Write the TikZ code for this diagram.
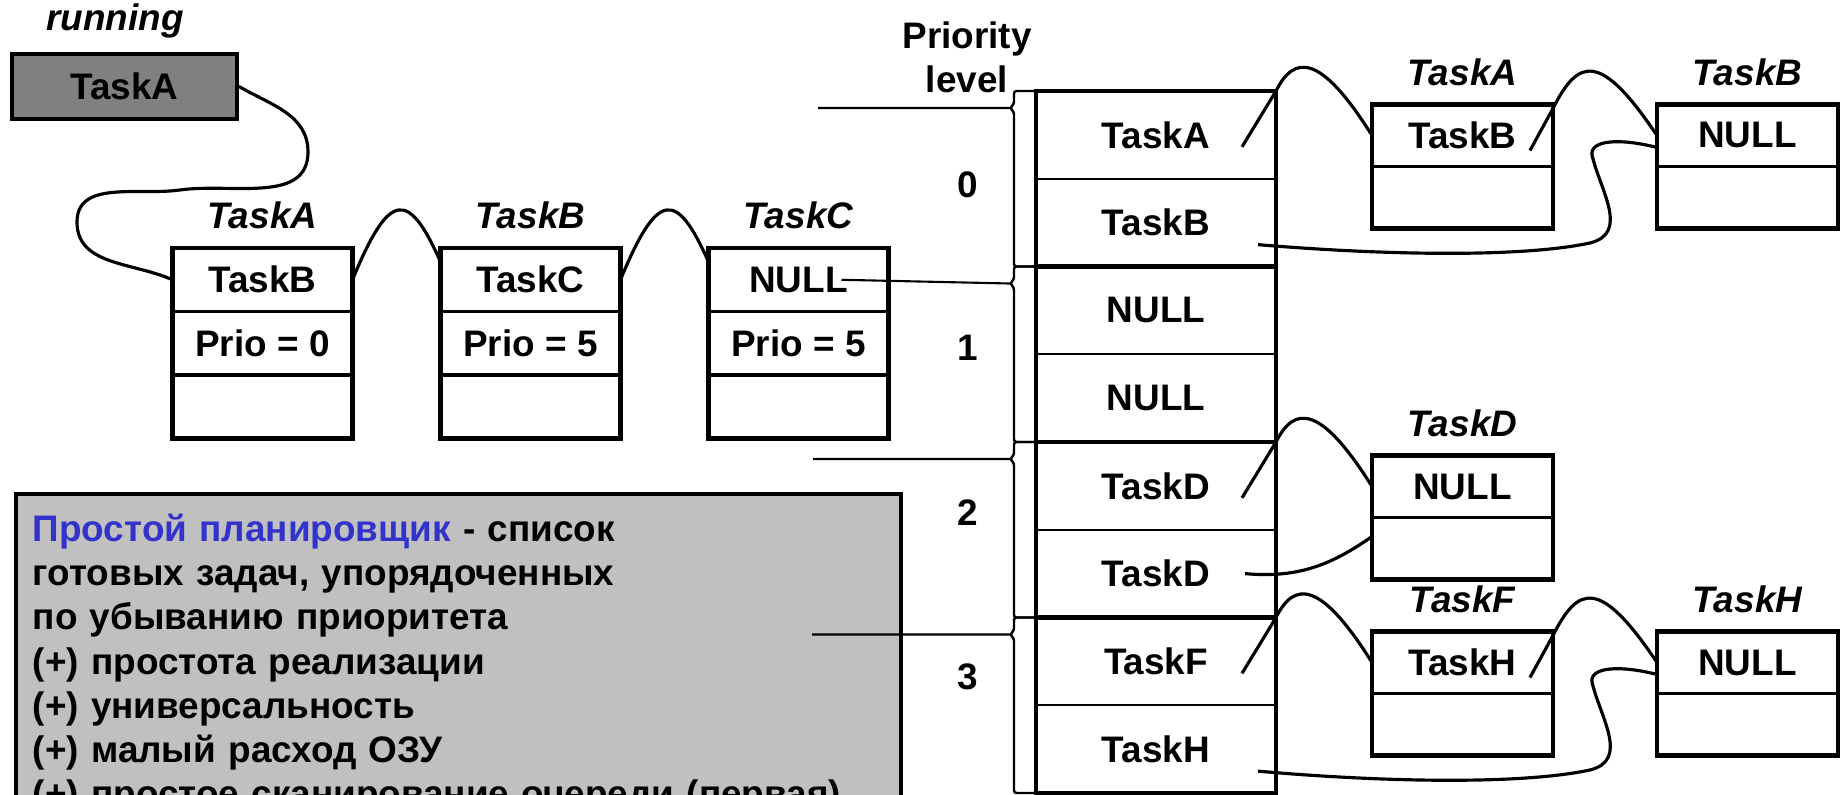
\documentclass[tikz,border=0pt]{standalone}
\usepackage{fontspec}
\setmainfont{Liberation Sans}
\usepackage{xcolor}
\usepackage{tikz}
\usetikzlibrary{positioning}

\definecolor{runfill}{HTML}{808080}
\definecolor{notefill}{HTML}{C0C0C0}
\definecolor{noteblue}{HTML}{3333CC}

\begin{document}
\begin{tikzpicture}[every node/.style={font=\fontsize{10.5}{12.6}\selectfont\bfseries},
    cell/.style={draw, line width=1.1pt, minimum width=1.80cm, minimum height=0.635cm, inner sep=0pt, outer sep=0pt},
    rcell/.style={cell, line width=1pt, minimum width=1.81cm, minimum height=0.62cm},
    pcell/.style={draw, line width=0.6pt, minimum width=2.40cm, minimum height=0.8775cm, inner sep=0pt, outer sep=0pt},
    frame/.style={line width=1.4pt},
    title/.style={font=\fontsize{10.5}{12.6}\selectfont\bfseries\itshape, inner sep=0pt},
    link/.style={line width=0.9pt},
    bracket/.style={line width=0.7pt, rounded corners=0.025cm},
    levelline/.style={line width=0.6pt}]
    \useasboundingbox (0,0) rectangle (18.46,-7.95);

    % running task
    \node[title] (runlbl) at (1.15,-0.21) {running};
    \node[draw, line width=1.1pt, fill=runfill, minimum width=2.25cm, minimum height=0.65cm, inner sep=0pt] (run) at (1.245,-0.865) {TaskA};

    % ready list
    \node[cell] (L1a) at (2.625,-2.798) {TaskB};
    \node[cell, below=0pt of L1a] (L1b) {Prio = 0};
    \node[cell, below=0pt of L1b] (L1c) {};
    \node[cell, right=0.88cm of L1a] (L2a) {TaskC};
    \node[cell, below=0pt of L2a] (L2b) {Prio = 5};
    \node[cell, below=0pt of L2b] (L2c) {};
    \node[cell, right=0.88cm of L2a] (L3a) {NULL};
    \node[cell, below=0pt of L3a] (L3b) {Prio = 5};
    \node[cell, below=0pt of L3b] (L3c) {};
    \foreach \n in {1,2,3}
      \draw[frame] (L\n a.north west) rectangle (L\n c.south east);
    \node[title, above=0.18cm of L1a] (tL1) {TaskA};
    \node[title, above=0.18cm of L2a] (tL2) {TaskB};
    \node[title, above=0.18cm of L3a] (tL3) {TaskC};

    \draw[link] (run.east) to[out=-30,in=90] (3.08,-1.52) to[out=-90,in=8] (1.80,-1.90)
                to[out=188,in=90] (0.77,-2.22) to[out=-90,in=156] (L1a.west);
    \draw[link] (L1a.east) .. controls +(0.37,0.90) and +(-0.32,0.72) .. ([yshift=0.18cm]L2a.west);
    \draw[link] (L2a.east) .. controls +(0.37,0.90) and +(-0.32,0.72) .. ([yshift=0.18cm]L3a.west);

    % note
    \node[draw, line width=1pt, fill=notefill, anchor=north west, text width=8.51cm, align=left,
          inner xsep=0.17cm, inner ysep=0.2cm] (note) at (0.14,-4.92)
      {{\color{noteblue}Простой планировщик} - список\\
       готовых задач, упорядоченных\\
       по убыванию приоритета\\
       (+) простота реализации\\
       (+) универсальность\\
       (+) малый расход ОЗУ\\
       (+) простое сканирование очереди (первая)};

    % priority table
    \node[align=center] (prio) at (9.67,-0.575) {Priority\\level};
    \node[pcell] (p0a) at (11.56,-1.349) {TaskA};
    \node[pcell, below=0pt of p0a] (p0b) {TaskB};
    \node[pcell, below=0pt of p0b] (p1a) {NULL};
    \node[pcell, below=0pt of p1a] (p1b) {NULL};
    \node[pcell, below=0pt of p1b] (p2a) {TaskD};
    \node[pcell, below=0pt of p2a] (p2b) {TaskD};
    \node[pcell, below=0pt of p2b] (p3a) {TaskF};
    \node[pcell, below=0pt of p3a] (p3b) {TaskH};
    \foreach \i in {0,...,3} {
      \draw[frame] (p\i a.north west) rectangle (p\i b.south east);
      \draw[bracket] (p\i a.north west) -- ++(-0.22,0) -- ++(0,-0.13) -- ++(-0.04,-0.04) coordinate (tip\i)
                     -- ++(0.04,-0.04) |- (p\i b.south west);
    }
    \node (lv0) at (9.68,-1.85) {0};
    \node (lv1) at (9.68,-3.48) {1};
    \node (lv2) at (9.68,-5.13) {2};
    \node (lv3) at (9.68,-6.77) {3};

    \coordinate (free0) at (8.18,-1.08);
    \coordinate (free2) at (8.13,-4.59);
    \coordinate (free3) at (8.12,-6.345);
    \draw[levelline] (free0) -- (tip0);
    \draw[levelline] ([xshift=-0.47cm]L3a.east) -- (tip1);
    \draw[levelline] (free2) -- (tip2);
    \draw[levelline] (free3) -- (tip3);

    % per-level lists
    \node[rcell] (rAa) at (14.625,-1.355) {TaskB};
    \node[rcell, below=0pt of rAa] (rAb) {};
    \node[rcell, right=1.04cm of rAa] (rBa) {NULL};
    \node[rcell, below=0pt of rBa] (rBb) {};
    \node[rcell] (rDa) at (14.625,-4.865) {NULL};
    \node[rcell, below=0pt of rDa] (rDb) {};
    \node[rcell] (rFa) at (14.625,-6.625) {TaskH};
    \node[rcell, below=0pt of rFa] (rFb) {};
    \node[rcell, right=1.04cm of rFa] (rHa) {NULL};
    \node[rcell, below=0pt of rHa] (rHb) {};
    \foreach \n in {A,B,D,F,H}
      \draw[frame] (r\n a.north west) rectangle (r\n b.south east);
    \node[title, above=0.18cm of rAa] (tA) {TaskA};
    \node[title, above=0.18cm of rBa] (tB) {TaskB};
    \node[title, above=0.18cm of rDa] (tD) {TaskD};
    \node[title, above=0.18cm of rFa] (tF) {TaskF};
    \node[title, above=0.18cm of rHa] (tH) {TaskH};

    \draw[link] ([xshift=-0.34cm,yshift=-0.12cm]p0a.east) -- (p0a.north east)
                .. controls +(0.18,0.36) and +(-0.52,0.83) .. (rAa.west);
    \draw[link] ([xshift=-0.34cm,yshift=-0.12cm]p2a.east) -- (p2a.north east)
                .. controls +(0.18,0.36) and +(-0.52,0.83) .. (rDa.west);
    \draw[link] ([xshift=-0.34cm,yshift=-0.12cm]p3a.east) -- (p3a.north east)
                .. controls +(0.18,0.36) and +(-0.52,0.83) .. (rFa.west);
    \draw[link] ([xshift=-0.23cm,yshift=-0.15cm]rAa.east) -- ([yshift=-0.04cm]rAa.north east)
                .. controls +(0.25,0.50) and +(-0.57,0.85) .. (rBa.west);
    \draw[link] ([xshift=-0.23cm,yshift=-0.15cm]rFa.east) -- ([yshift=-0.04cm]rFa.north east)
                .. controls +(0.25,0.50) and +(-0.57,0.85) .. (rHa.west);

    % tails
    \draw[link] ([xshift=-0.18cm,yshift=-0.22cm]p0b.east) .. controls (13.80,-2.55) and (15.20,-2.58) .. (15.90,-2.43)
                .. controls (16.30,-2.33) and (16.00,-1.90) .. (15.92,-1.55)
                .. controls (15.90,-1.40) and (16.20,-1.38) .. ([yshift=-0.12cm]rBa.west);
    \draw[link] ([xshift=-0.31cm]p2b.east) to[out=-5,in=215] ([yshift=0.12cm]rDb.west);
    \draw[link] ([xshift=-0.18cm,yshift=-0.22cm]p3b.east) .. controls (13.80,-7.82) and (15.20,-7.85) .. (15.90,-7.70)
                .. controls (16.30,-7.60) and (16.00,-7.17) .. (15.92,-6.82)
                .. controls (15.90,-6.67) and (16.20,-6.65) .. ([yshift=-0.12cm]rHa.west);
\end{tikzpicture}
\end{document}
